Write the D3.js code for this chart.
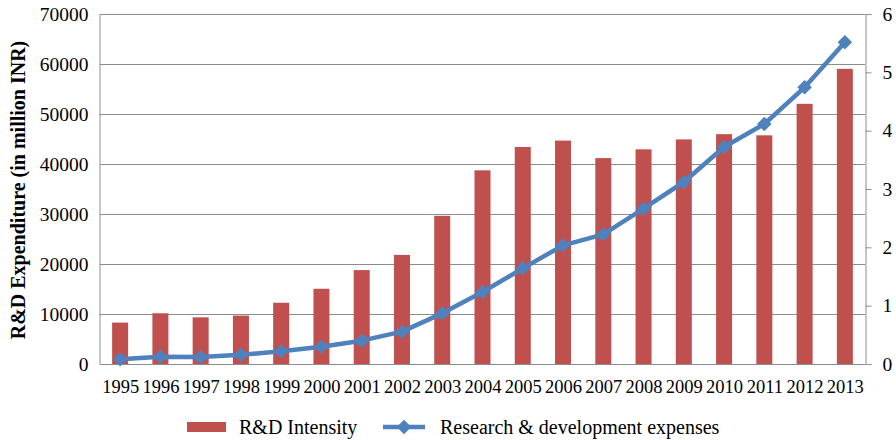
<!DOCTYPE html>
<html>
<head>
<meta charset="utf-8">
<script src="https://cdn.jsdelivr.net/npm/d3@7"></script>
<style>
  html, body { margin: 0; padding: 0; background: #fff; }
  svg { display: block; font-family: "Liberation Serif", "Times New Roman", serif; }
</style>
</head>
<body>
<svg id="chart" width="896" height="440"></svg>
<script>
// Years on the category axis
const years = ["1995","1996","1997","1998","1999","2000","2001","2002","2003","2004",
               "2005","2006","2007","2008","2009","2010","2011","2012","2013"];

// R&D intensity (right axis)
const intensity = [0.71, 0.87, 0.80, 0.83, 1.05, 1.29, 1.61, 1.87, 2.54, 3.32,
                   3.72, 3.83, 3.53, 3.68, 3.85, 3.94, 3.92, 4.46, 5.06];

// Research & development expenses, million INR (left axis)
const expenses = [930, 1450, 1420, 1850, 2530, 3470, 4670, 6470, 10130, 14400,
                  19130, 23730, 25930, 31070, 36400, 43400, 48000, 55330, 64330];

const leftTicks = [0, 10000, 20000, 30000, 40000, 50000, 60000, 70000];
const rightTicks = [0, 1, 2, 3, 4, 5, 6];

const barColor = "#C0504D";
const lineColor = "#4F81BD";
const gridColor = "#8c8c8c";

const svg = d3.select("#chart");
const plot = { left: 100, right: 865, top: 14, bottom: 364 };

const xc = d3.scalePoint().domain(years).range([plot.left, plot.right]).padding(0.5);
const yL = d3.scaleLinear().domain([0, 70000]).range([plot.bottom, plot.top]);
const yR = d3.scaleLinear().domain([0, 6]).range([plot.bottom, plot.top]);

// Horizontal gridlines
svg.append("g")
  .selectAll("line")
  .data(leftTicks.slice(1))
  .join("line")
  .attr("x1", plot.left).attr("x2", plot.right)
  .attr("y1", d => yL(d) + 0.5).attr("y2", d => yL(d) + 0.5)
  .attr("stroke", gridColor).attr("stroke-width", 1);

// Left axis
const leftAxis = svg.append("g")
  .attr("transform", `translate(${plot.left - 0.5},0)`)
  .call(d3.axisLeft(yL).tickValues(leftTicks).tickSize(0).tickPadding(11).tickFormat(d3.format("d")));
leftAxis.select(".domain").attr("stroke", gridColor);
leftAxis.selectAll("text").attr("font-size", 19.5).attr("fill", "#000")
  .attr("font-family", "Liberation Serif");

// Right axis
const rightAxis = svg.append("g")
  .attr("transform", `translate(${plot.right + 0.5},0)`)
  .call(d3.axisRight(yR).tickValues(rightTicks).tickSize(6).tickPadding(11).tickFormat(d3.format("d")));
rightAxis.select(".domain").attr("stroke", gridColor);
rightAxis.selectAll(".tick line").attr("stroke", gridColor);
rightAxis.selectAll("text").attr("font-size", 19.5).attr("fill", "#000")
  .attr("font-family", "Liberation Serif");

// Bars
svg.append("g")
  .selectAll("rect")
  .data(years.map((y, i) => ({ year: y, v: intensity[i] })))
  .join("rect")
  .attr("x", d => xc(d.year) - 8)
  .attr("width", 16)
  .attr("y", d => yR(d.v))
  .attr("height", d => yR(0) - yR(d.v))
  .attr("fill", barColor);

// Bottom axis
const bottomAxis = svg.append("g")
  .attr("transform", `translate(0,${plot.bottom + 0.5})`)
  .call(d3.axisBottom(xc).tickSize(0).tickPadding(15));
bottomAxis.select(".domain").attr("stroke", gridColor).attr("d", `M${plot.left},0H${plot.right}`);
bottomAxis.selectAll("text").attr("font-size", 18.5).attr("fill", "#000")
  .attr("font-family", "Liberation Serif");

// Expenses line
const pts = years.map((y, i) => ({ year: y, v: expenses[i] }));
svg.append("path")
  .datum(pts)
  .attr("fill", "none")
  .attr("stroke", lineColor)
  .attr("stroke-width", 4.5)
  .attr("stroke-linejoin", "round")
  .attr("d", d3.line().x(d => xc(d.year)).y(d => yL(d.v)));

const diamond = d3.symbol().type(d3.symbolSquare).size(105)();
svg.append("g")
  .selectAll("path")
  .data(pts)
  .join("path")
  .attr("d", diamond)
  .attr("transform", d => `translate(${xc(d.year)},${yL(d.v)}) rotate(45)`)
  .attr("fill", lineColor);

// Left axis title
svg.append("text")
  .attr("transform", `translate(25,190) rotate(-90)`)
  .attr("text-anchor", "middle")
  .attr("font-size", 20)
  .attr("font-weight", "bold")
  .attr("fill", "#000")
  .text("R&D Expenditure (in million INR)");

// Legend
const legend = svg.append("g").attr("transform", "translate(0,427)");
legend.append("rect")
  .attr("x", 187).attr("y", -5).attr("width", 39).attr("height", 10)
  .attr("fill", barColor);
legend.append("text")
  .attr("x", 239).attr("y", 6.5)
  .attr("font-size", 20).attr("fill", "#000")
  .text("R&D Intensity");
legend.append("line")
  .attr("x1", 383).attr("x2", 425).attr("y1", 0).attr("y2", 0)
  .attr("stroke", lineColor).attr("stroke-width", 4.5);
legend.append("path")
  .attr("d", diamond)
  .attr("transform", "translate(404,0) rotate(45)")
  .attr("fill", lineColor);
legend.append("text")
  .attr("x", 440).attr("y", 6.5)
  .attr("font-size", 20).attr("fill", "#000")
  .text("Research & development expenses");
</script>
</body>
</html>
